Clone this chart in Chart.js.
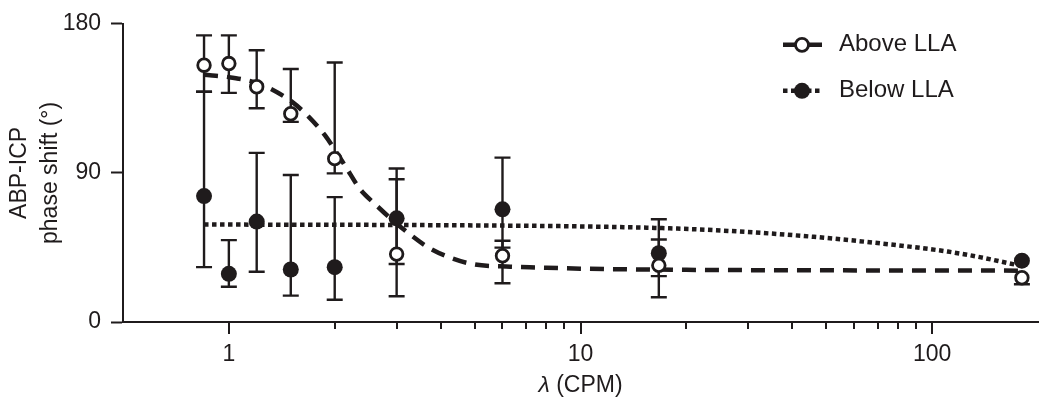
<!DOCTYPE html>
<html>
<head>
<meta charset="utf-8">
<script src="https://cdn.jsdelivr.net/npm/chart.js@4.4.1/dist/chart.umd.min.js"></script>
<style>
  html, body { margin: 0; padding: 0; background: #fff; }
  #wrap { width: 1050px; height: 413px; }
</style>
</head>
<body>
<div id="wrap"><canvas id="chart"></canvas></div>
<script>
// stimulation frequency, lambda (CPM)
const lambdaCPM = [0.85, 1, 1.2, 1.5, 2, 3, 6, 16.7, 180];

// Above LLA: mean and error bar ends (deg)
const aboveMean = [155, 156, 142, 125.7, 98.6, 41, 40, 34.2, 26.7];
const aboveHigh = [173, 173, 164, 152.7, 156.6, 86.2, 49, 49.8, 26.7];
const aboveLow = [139, 138.3, 129, 120.8, 89.7, 15.5, 23.4, 14.9, 22.8];

// Below LLA
const belowMean = [76, 29.1, 60.6, 31.7, 33.1, 62.6, 68, 41.5, 37];
const belowHigh = [139, 49.4, 102.1, 88.7, 75.4, 92.7, 99.2, 62, 37];
const belowLow = [33.1, 21.3, 30.3, 15.9, 13.4, 35, 44.9, 27.7, 37];

// fitted curves
const aboveFitX = [0.85, 1, 1.2, 1.31, 1.51, 1.685, 1.88, 2, 2.145, 2.365, 2.61, 2.88, 3.21, 3.66, 4.17, 4.97, 6.32, 7.53, 10, 20, 50, 180];
const aboveFitY = [149.2, 147.8, 144.4, 141, 133, 124, 112.5, 104, 94, 80, 71, 62.6, 54.3, 45.5, 39.6, 34.8, 33.4, 32.9, 32.2, 31.5, 31.2, 31];
const belowFitX = [0.85, 2, 5, 10, 19.3, 29.9, 46.1, 71.7, 110.8, 137.8, 164, 180];
const belowFitY = [58.8, 58.7, 58.3, 57.7, 56.3, 54.3, 51.4, 47.4, 42.5, 39, 35.6, 33.8];

// axes
const xMajorTicks = [1, 10, 100];
const xMinorTicks = [2, 3, 4, 5, 6, 7, 8, 9, 20, 30, 40, 50, 60, 70, 80, 90];
const yTicks = [0, 90, 180];
const seriesNames = ["Above LLA", "Below LLA"];
const xTitle = ["λ", " (CPM)"];

const INK = "#1f1b1c";
const FONT = "'Liberation Sans', Arial, Helvetica, sans-serif";

const toXY = (xs, ys) => xs.map((x, i) => ({ x: x, y: ys[i] }));

// error bars under all the markers
const errorBars = {
    id: "errorBars",
    beforeDatasetsDraw(chart) {
        const ctx = chart.ctx;
        const xs = chart.scales.x, ys = chart.scales.y;
        ctx.save();
        ctx.strokeStyle = INK;
        ctx.lineWidth = 2.4;
        chart.data.datasets.forEach(ds => {
            if (!ds.errHigh) return;
            ds.data.forEach((p, i) => {
                const px = xs.getPixelForValue(p.x);
                const hi = ys.getPixelForValue(ds.errHigh[i]);
                const lo = ys.getPixelForValue(ds.errLow[i]);
                ctx.beginPath();
                ctx.moveTo(px, hi);
                ctx.lineTo(px, lo);
                if (ds.errHigh[i] > p.y) { ctx.moveTo(px - 8, hi); ctx.lineTo(px + 8, hi); }
                if (ds.errLow[i] < p.y) { ctx.moveTo(px - 8, lo); ctx.lineTo(px + 8, lo); }
                ctx.stroke();
            });
        });
        ctx.restore();
    }
};

// log axis tick marks + x title with italic lambda
const xAxisExtras = {
    id: "xAxisExtras",
    afterDraw(chart) {
        const ctx = chart.ctx;
        const xs = chart.scales.x;
        const y0 = chart.chartArea.bottom;
        ctx.save();
        ctx.strokeStyle = INK;
        ctx.lineWidth = 2;
        ctx.beginPath();
        xMajorTicks.forEach(v => {
            const px = Math.round(xs.getPixelForValue(v));
            ctx.moveTo(px, y0); ctx.lineTo(px, y0 + 12);
        });
        xMinorTicks.forEach(v => {
            const px = Math.round(xs.getPixelForValue(v));
            ctx.moveTo(px, y0); ctx.lineTo(px, y0 + 7);
        });
        ctx.stroke();

        const f1 = "italic 23px " + FONT, f2 = "23px " + FONT;
        ctx.font = f1; const w1 = ctx.measureText(xTitle[0]).width;
        ctx.font = f2; const w2 = ctx.measureText(xTitle[1]).width;
        let tx = (xs.left + xs.right) / 2 - (w1 + w2) / 2;
        const ty = xs.bottom - 27;
        ctx.fillStyle = INK;
        ctx.textBaseline = "middle";
        ctx.textAlign = "left";
        ctx.font = f1; ctx.fillText(xTitle[0], tx, ty);
        ctx.font = f2; ctx.fillText(xTitle[1], tx + w1, ty);
        ctx.restore();
    }
};

// legend: line + marker swatch, then name
const lineLegend = {
    id: "lineLegend",
    afterDraw(chart) {
        const ctx = chart.ctx;
        const a = chart.chartArea;
        const x0 = a.right - 255, xm = a.right - 236, xt = a.right - 199;
        const rows = [a.top + 21, a.top + 67];
        ctx.save();
        ctx.strokeStyle = INK;
        ctx.fillStyle = INK;

        // Above
        let y = rows[0];
        ctx.lineWidth = 4.5;
        ctx.beginPath();
        ctx.moveTo(x0, y); ctx.lineTo(x0 + 39, y);
        ctx.stroke();
        ctx.beginPath();
        ctx.arc(xm, y, 6.5, 0, Math.PI * 2);
        ctx.fillStyle = "#fff";
        ctx.fill();
        ctx.lineWidth = 2.8;
        ctx.stroke();

        // Below
        y = rows[1];
        ctx.fillStyle = INK;
        ctx.lineWidth = 4.5;
        ctx.setLineDash([4.5, 3.5]);
        ctx.beginPath();
        ctx.moveTo(x0, y); ctx.lineTo(x0 + 39, y);
        ctx.stroke();
        ctx.setLineDash([]);
        ctx.beginPath();
        ctx.arc(xm, y, 8, 0, Math.PI * 2);
        ctx.fill();

        ctx.font = "24px " + FONT;
        ctx.textBaseline = "middle";
        ctx.textAlign = "left";
        ctx.fillText(seriesNames[0], xt, rows[0]);
        ctx.fillText(seriesNames[1], xt, rows[1]);
        ctx.restore();
    }
};

const ctx = document.getElementById("chart").getContext("2d");

new Chart(ctx, {
    type: "line",
    data: {
        datasets: [
            {
                label: seriesNames[0] + " fit",
                data: toXY(aboveFitX, aboveFitY),
                borderColor: INK,
                borderWidth: 4.5,
                borderDash: [14, 9],
                pointRadius: 0,
                cubicInterpolationMode: "monotone",
                fill: false,
                order: 3
            },
            {
                label: seriesNames[1] + " fit",
                data: toXY(belowFitX, belowFitY),
                borderColor: INK,
                borderWidth: 4.5,
                borderDash: [4.5, 3.5],
                pointRadius: 0,
                cubicInterpolationMode: "monotone",
                fill: false,
                order: 3
            },
            {
                label: seriesNames[1],
                data: toXY(lambdaCPM, belowMean),
                errHigh: belowHigh,
                errLow: belowLow,
                showLine: false,
                pointStyle: "circle",
                pointRadius: 8,
                pointBackgroundColor: INK,
                pointBorderColor: INK,
                pointBorderWidth: 0,
                order: 2
            },
            {
                label: seriesNames[0],
                data: toXY(lambdaCPM, aboveMean),
                errHigh: aboveHigh,
                errLow: aboveLow,
                showLine: false,
                pointStyle: "circle",
                pointRadius: 6.3,
                pointBackgroundColor: "#fff",
                pointBorderColor: INK,
                pointBorderWidth: 2.8,
                order: 1
            }
        ]
    },
    options: {
        responsive: true,
        maintainAspectRatio: false,
        animation: false,
        layout: { padding: { left: 0, right: 12, top: 17, bottom: 0 } },
        plugins: {
            legend: { display: false },
            tooltip: { enabled: false }
        },
        scales: {
            x: {
                type: "logarithmic",
                min: 0.5,
                max: 200,
                afterBuildTicks: s => { s.ticks = xMajorTicks.map(v => ({ value: v, major: true })); },
                afterFit: s => { s.height = 91; },
                grid: { display: true, drawOnChartArea: false, drawTicks: false },
                border: { display: true, color: INK, width: 2 },
                ticks: {
                    autoSkip: false,
                    maxRotation: 0,
                    padding: 19,
                    color: INK,
                    font: { family: FONT, size: 23 },
                    callback: v => String(v)
                },
                title: { display: false }
            },
            y: {
                min: 0,
                max: 180,
                afterBuildTicks: s => { s.ticks = yTicks.map(v => ({ value: v })); },
                afterFit: s => { s.width = 123; },
                grid: { drawOnChartArea: false, drawTicks: true, tickLength: 12, tickWidth: 2, tickColor: INK },
                border: { display: true, color: INK, width: 2 },
                ticks: {
                    padding: 10,
                    color: INK,
                    font: { family: FONT, size: 23 }
                },
                title: {
                    display: true,
                    text: ["ABP-ICP", "phase shift (°)"],
                    color: INK,
                    font: { family: FONT, size: 23, lineHeight: 1.35 },
                    padding: { top: 4, bottom: 0 }
                }
            }
        }
    },
    plugins: [errorBars, xAxisExtras, lineLegend]
});
</script>
</body>
</html>
